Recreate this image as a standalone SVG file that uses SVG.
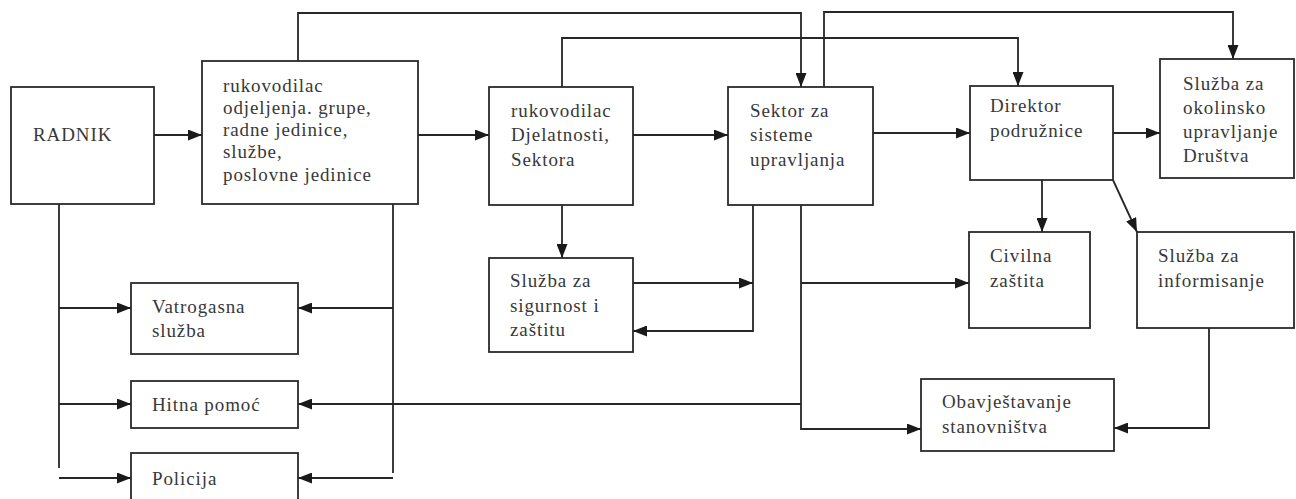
<svg xmlns="http://www.w3.org/2000/svg" width="1296" height="499" viewBox="0 0 1296 499">
  <style>
    .box { fill: #ffffff; stroke: #2a2a2a; stroke-width: 1.8; }
    .lbl { font-family: "Liberation Serif", "Times New Roman", serif; font-size: 19px; letter-spacing: 0.9px; fill: #383838; }
    .con { fill: none; stroke: #262626; stroke-width: 1.8; }
    .arr { marker-end: url(#ah); }
  </style>
  <defs>
    <marker id="ah" viewBox="0 0 14 11" refX="14" refY="5.5" markerWidth="14" markerHeight="11" markerUnits="userSpaceOnUse" orient="auto">
      <path d="M0,0 L14,5.5 L0,11 z" fill="#1a1a1a"/>
    </marker>
  </defs>
  <rect width="1296" height="499" fill="#ffffff"/>

  <g id="connectors">
    <path class="con arr" d="M154,135 H202"/>
    <path class="con arr" d="M418,135 H489"/>
    <path class="con arr" d="M633,135 H728"/>
    <path class="con arr" d="M873,133 H970"/>
    <path class="con arr" d="M1113,133 H1160"/>
    <path class="con arr" d="M298,61 V13 H801 V87"/>
    <path class="con arr" d="M562,87 V38 H1018 V86"/>
    <path class="con arr" d="M824,87 V12 H1233 V59"/>
    <path class="con arr" d="M562,205 V258"/>
    <path class="con arr" d="M1042,180 V232"/>
    <path class="con arr" d="M1113,180 L1137,232"/>
    <path class="con arr" d="M753,205 V331 H633"/>
    <path class="con arr" d="M633,283 H753"/>
    <path class="con arr" d="M801,205 V429 H921"/>
    <path class="con arr" d="M801,283 H969"/>
    <path class="con arr" d="M801,404 H298"/>
    <path class="con arr" d="M1209,328 V428 H1114"/>
    <path class="con" d="M59,204 V468"/>
    <path class="con arr" d="M59,308 H131"/>
    <path class="con arr" d="M59,404 H131"/>
    <path class="con arr" d="M59,478 H131"/>
    <path class="con" d="M393,204 V473"/>
    <path class="con arr" d="M393,308 H298"/>
    <path class="con arr" d="M393,478 H298"/>
  </g>

  <g id="radnik">
    <rect class="box" x="11" y="87" width="143" height="117"/>
    <text class="lbl" x="33" y="141">RADNIK</text>
  </g>
  <g id="rukovodilac-odjeljenja">
    <rect class="box" x="202" y="61" width="216" height="143"/>
    <text class="lbl" x="223" y="92">rukovodilac</text>
    <text class="lbl" x="223" y="114">odjeljenja. grupe,</text>
    <text class="lbl" x="223" y="136">radne jedinice,</text>
    <text class="lbl" x="223" y="158">službe,</text>
    <text class="lbl" x="223" y="181">poslovne jedinice</text>
  </g>
  <g id="rukovodilac-djelatnosti">
    <rect class="box" x="489" y="87" width="144" height="118"/>
    <text class="lbl" x="511" y="117">rukovodilac</text>
    <text class="lbl" x="511" y="141">Djelatnosti,</text>
    <text class="lbl" x="511" y="166">Sektora</text>
  </g>
  <g id="sektor">
    <rect class="box" x="728" y="87" width="145" height="118"/>
    <text class="lbl" x="750" y="117">Sektor za</text>
    <text class="lbl" x="750" y="141">sisteme</text>
    <text class="lbl" x="750" y="166">upravljanja</text>
  </g>
  <g id="direktor">
    <rect class="box" x="970" y="86" width="143" height="94"/>
    <text class="lbl" x="990" y="112">Direktor</text>
    <text class="lbl" x="990" y="137">podružnice</text>
  </g>
  <g id="okolinsko">
    <rect class="box" x="1160" y="59" width="134" height="119"/>
    <text class="lbl" x="1183" y="90">Služba za</text>
    <text class="lbl" x="1183" y="114">okolinsko</text>
    <text class="lbl" x="1183" y="138">upravljanje</text>
    <text class="lbl" x="1183" y="162">Društva</text>
  </g>
  <g id="sigurnost">
    <rect class="box" x="489" y="258" width="144" height="94"/>
    <text class="lbl" x="510" y="287">Služba za</text>
    <text class="lbl" x="510" y="312">sigurnost i</text>
    <text class="lbl" x="510" y="336">zaštitu</text>
  </g>
  <g id="civilna">
    <rect class="box" x="969" y="232" width="121" height="96"/>
    <text class="lbl" x="990" y="262">Civilna</text>
    <text class="lbl" x="990" y="287">zaštita</text>
  </g>
  <g id="informisanje">
    <rect class="box" x="1137" y="232" width="157" height="96"/>
    <text class="lbl" x="1158" y="262">Služba za</text>
    <text class="lbl" x="1158" y="287">informisanje</text>
  </g>
  <g id="obavjestavanje">
    <rect class="box" x="921" y="379" width="193" height="72"/>
    <text class="lbl" x="942" y="408">Obavještavanje</text>
    <text class="lbl" x="942" y="433">stanovništva</text>
  </g>
  <g id="vatrogasna">
    <rect class="box" x="131" y="283" width="167" height="71"/>
    <text class="lbl" x="152" y="313">Vatrogasna</text>
    <text class="lbl" x="152" y="337">služba</text>
  </g>
  <g id="hitna">
    <rect class="box" x="131" y="381" width="167" height="47"/>
    <text class="lbl" x="152" y="411">Hitna pomoć</text>
  </g>
  <g id="policija">
    <rect class="box" x="131" y="453" width="167" height="60"/>
    <text class="lbl" x="152" y="485">Policija</text>
  </g>
</svg>
